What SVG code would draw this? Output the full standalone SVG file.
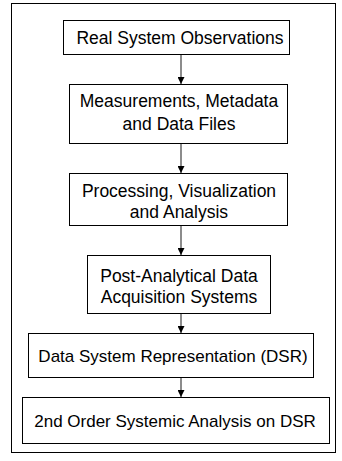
<svg xmlns="http://www.w3.org/2000/svg" width="342" height="461" viewBox="0 0 342 461">
<style>
.box{fill:#fff;stroke:#000;stroke-width:1}
.t{font-family:"Liberation Sans",Arial,sans-serif;font-size:17.5px;fill:#000;text-anchor:middle}
.s{font-size:17px}
.c{stroke:#666;stroke-width:1.5;fill:none}
</style>
<defs>
<marker id="ah" viewBox="0 0 7 7" refX="7" refY="3.5" markerWidth="7" markerHeight="7" markerUnits="userSpaceOnUse" orient="auto">
<path d="M0,0L7,3.5L0,7Z" fill="#000"/>
</marker>
</defs>
<rect x="0" y="0" width="342" height="461" fill="#fff"/>
<rect id="frame" x="11.5" y="3.5" width="324" height="449" fill="none" stroke="#000" stroke-width="1"/>
<g id="connectors">
<line class="c" x1="181" y1="54" x2="181" y2="84" marker-end="url(#ah)"/>
<line class="c" x1="181" y1="143" x2="181" y2="173" marker-end="url(#ah)"/>
<line class="c" x1="181" y1="225" x2="181" y2="255" marker-end="url(#ah)"/>
<line class="c" x1="181" y1="313" x2="181" y2="333" marker-end="url(#ah)"/>
<line class="c" x1="181" y1="377" x2="181" y2="397" marker-end="url(#ah)"/>
</g>
<g id="n1"><rect class="box" x="63.5" y="20.5" width="226" height="34"/><text class="t" x="180" y="44">Real System Observations</text></g>
<g id="n2"><rect class="box" x="69.5" y="84.5" width="218" height="59"/><text class="t" x="179" y="107">Measurements, Metadata</text><text class="t" x="179" y="130">and Data Files</text></g>
<g id="n3"><rect class="box" x="69.5" y="173.5" width="218" height="52"/><text class="t" x="179" y="197">Processing, Visualization</text><text class="t" x="179" y="218">and Analysis</text></g>
<g id="n4"><rect class="box" x="87.5" y="255.5" width="183" height="58"/><text class="t" x="179" y="282">Post-Analytical Data</text><text class="t" x="179" y="303">Acquisition Systems</text></g>
<g id="n5"><rect class="box" x="28.5" y="333.5" width="285" height="44"/><text class="t s" x="173" y="362">Data System Representation (DSR)</text></g>
<g id="n6"><rect class="box" x="22.5" y="397.5" width="307" height="46"/><text class="t s" x="175" y="427">2nd Order Systemic Analysis on DSR</text></g>
</svg>
